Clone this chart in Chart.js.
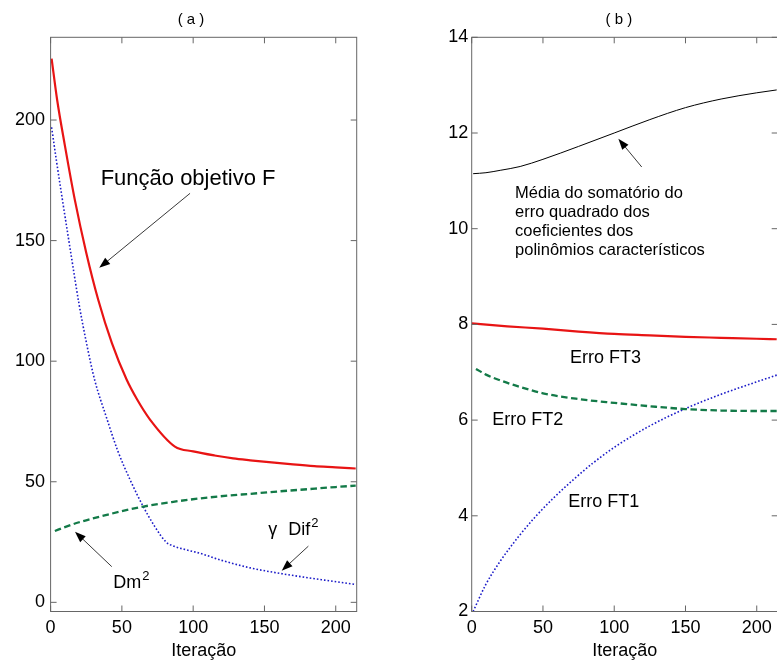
<!DOCTYPE html>
<html>
<head>
<meta charset="utf-8">
<script src="https://cdn.jsdelivr.net/npm/chart.js@4.4.0/dist/chart.umd.min.js"></script>
<style>
html,body{margin:0;padding:0;background:#fff;overflow:hidden}
#chartA{position:absolute;left:0;top:0}
#chartB{position:absolute;left:420px;top:0}
</style>
</head>
<body>
<canvas id="chartA" width="390" height="664"></canvas>
<canvas id="chartB" width="360" height="664"></canvas>
<script>
const FONT='"Liberation Sans", Arial, Helvetica, sans-serif'

// shared x axis
const xTicks=[0,50,100,150,200]
const xMax=214.7

// panel (a)
const yTicksA=[0,50,100,150,200]
const funcX=[0.7,4.6,10,17,25,33.4,43,53.3,60.7,69.6,87.2,100,115,128,140,155,170,185,200,214]
const funcY=[225.5,208.3,189.5,166.9,145,125.5,107.5,92.4,84.1,75.9,64.6,62.6,60.9,59.7,58.9,58.0,57.2,56.5,56.0,55.5]
const difX=[0.7,4,8,14,20,25,31,39,47,56,65,73,81,85,95,105,120,140,163,190,214]
const difY=[197,183.5,168,145.5,123.5,108,92,77,63,50.5,39.7,31.5,25,23.6,21.8,20.3,17.4,14.3,11.8,9.4,7.4]
const dmX=[3,10,20,35,50,65,85,105,125,140,160,180,200,214]
const dmY=[29.6,31.2,33.2,35.6,37.8,39.7,41.6,43.1,44.3,45.0,46.0,46.9,47.8,48.4]

// panel (b)
const yTicksB=[2,4,6,8,10,12,14]
const mediaX=[1,10,20,34,50,75,100,125,150,175,200,214]
const mediaY=[11.15,11.17,11.22,11.3,11.45,11.72,12.0,12.28,12.53,12.71,12.84,12.9]
const ft3X=[0,25,50,75,100,125,150,175,200,214]
const ft3Y=[8.02,7.96,7.91,7.85,7.80,7.77,7.74,7.72,7.70,7.69]
const ft2X=[3,10,20,30,50,75,100,125,150,175,200,214]
const ft2Y=[7.07,6.95,6.83,6.73,6.56,6.44,6.36,6.29,6.23,6.2,6.19,6.19]
const ft1X=[1,10,20,33,45,57,70,85,100,125,150,175,200,214]
const ft1Y=[2.0,2.57,3.05,3.57,3.99,4.36,4.72,5.10,5.43,5.88,6.24,6.54,6.80,6.94]

// annotations, in data units
const notesA={
title:{x:98.5,text:"( a )"},
texts:[
{x:35.1,y:173.0,text:"Função objetivo F",size:22},
{x:43.9,y:5.8,text:"Dm",sup:"2",size:18},
{x:152.7,y:27.9,text:"γ",size:18},
{x:166.7,y:27.9,text:"Dif",sup:"2",size:18}
],
arrows:[
{x1:97.8,y1:169.6,x2:34.1,y2:138.7},
{x1:42.9,y1:14.8,x2:17.1,y2:29.3},
{x1:180.8,y1:23.3,x2:162.1,y2:13.1}
]
}
const notesB={
title:{x:103.3,text:"( b )"},
texts:[
{x:30.4,y:10.65,text:"Média do somatório do",size:16.5},
{x:30.4,y:10.24,text:"erro quadrado dos",size:16.5},
{x:30.4,y:9.84,text:"coeficientes dos",size:16.5},
{x:30.4,y:9.44,text:"polinômios característicos",size:16.5},
{x:69,y:7.20,text:"Erro FT3",size:18},
{x:14.5,y:5.90,text:"Erro FT2",size:18},
{x:67.8,y:4.18,text:"Erro FT1",size:18}
],
arrows:[
{x1:119.3,y1:11.29,x2:102.9,y2:11.88}
]
}

function pts(xs,ys){
return xs.map((x,i)=>({x:x,y:ys[i]}))
}

const frameAndNotes={
id:"frameAndNotes",
afterDraw(chart){
const ctx=chart.ctx
const a=chart.chartArea
const sx=chart.scales.x
const sy=chart.scales.y
const notes=chart.options.plugins.frameAndNotes.notes

ctx.save()
ctx.strokeStyle="#666"
ctx.lineWidth=1
ctx.strokeRect(a.left,a.top,a.right-a.left,a.bottom-a.top)
ctx.beginPath()
sx.ticks.forEach(t=>{
const p=sx.getPixelForValue(t.value)
ctx.moveTo(p,a.bottom);ctx.lineTo(p,a.bottom-6)
ctx.moveTo(p,a.top);ctx.lineTo(p,a.top+6)
})
sy.ticks.forEach(t=>{
const p=sy.getPixelForValue(t.value)
ctx.moveTo(a.left,p);ctx.lineTo(a.left+6,p)
ctx.moveTo(a.right,p);ctx.lineTo(a.right-6,p)
})
ctx.stroke()

// title
ctx.fillStyle="#000"
ctx.font="15px "+FONT
ctx.textAlign="center"
ctx.textBaseline="middle"
ctx.fillText(notes.title.text,sx.getPixelForValue(notes.title.x),a.top-17)

// texts
ctx.textAlign="left"
ctx.textBaseline="alphabetic"
notes.texts.forEach(t=>{
const px=sx.getPixelForValue(t.x)
const py=sy.getPixelForValue(t.y)
ctx.font=t.size+"px "+FONT
ctx.fillText(t.text,px,py)
if(t.sup){
const w=ctx.measureText(t.text).width
ctx.font=Math.round(t.size*0.72)+"px "+FONT
ctx.fillText(t.sup,px+w+1,py-t.size*0.45)
}
})

// arrows
notes.arrows.forEach(ar=>{
const x1=sx.getPixelForValue(ar.x1),y1=sy.getPixelForValue(ar.y1)
const x2=sx.getPixelForValue(ar.x2),y2=sy.getPixelForValue(ar.y2)
const ang=Math.atan2(y2-y1,x2-x1)
const len=11,half=4
ctx.strokeStyle="#222"
ctx.lineWidth=0.9
ctx.beginPath()
ctx.moveTo(x1,y1)
ctx.lineTo(x2-Math.cos(ang)*len*0.8,y2-Math.sin(ang)*len*0.8)
ctx.stroke()
ctx.fillStyle="#000"
ctx.beginPath()
ctx.moveTo(x2,y2)
ctx.lineTo(x2-Math.cos(ang)*len-Math.sin(ang)*half,y2-Math.sin(ang)*len+Math.cos(ang)*half)
ctx.lineTo(x2-Math.cos(ang)*len+Math.sin(ang)*half,y2-Math.sin(ang)*len-Math.cos(ang)*half)
ctx.closePath()
ctx.fill()
})
ctx.restore()
}
}

function lineSet(data,color,width,dash){
return {
data:data,
borderColor:color,
borderWidth:width,
borderDash:dash,
pointRadius:0,
fill:false,
cubicInterpolationMode:"monotone"
}
}

function makeOptions(yMin,yMax,yTicks,yWidth,padRight,yPad,notes){
return {
responsive:false,
animation:false,
layout:{padding:{top:37.3,right:padRight,left:0,bottom:0}},
plugins:{
legend:{display:false},
tooltip:{enabled:false},
frameAndNotes:{notes:notes}
},
scales:{
x:{
type:"linear",
min:0,
max:xMax,
grid:{display:false,drawTicks:false},
border:{display:false},
afterBuildTicks:s=>{s.ticks=xTicks.map(v=>({value:v}))},
afterFit:s=>{s.height=52.5},
ticks:{color:"#000",padding:6,maxRotation:0,font:{family:FONT,size:18}},
title:{display:true,text:"Iteração",color:"#000",font:{family:FONT,size:18},padding:{top:0,bottom:2}}
},
y:{
type:"linear",
min:yMin,
max:yMax,
grid:{display:false,drawTicks:false},
border:{display:false},
afterBuildTicks:s=>{s.ticks=yTicks.map(v=>({value:v}))},
afterFit:s=>{s.width=yWidth},
ticks:{color:"#000",padding:yPad,font:{family:FONT,size:18}}
}
}
}
}

new Chart(document.getElementById("chartA"),{
type:"line",
data:{datasets:[
lineSet(pts(dmX,dmY),"#137a48",2.3,[6.5,3.5]),
lineSet(pts(difX,difY),"#1c1cc8",1.6,[1.6,2]),
lineSet(pts(funcX,funcY),"#e81414",2.2,[])
]},
options:makeOptions(-3.8,234.3,yTicksA,50.6,33.3,5.5,notesA),
plugins:[frameAndNotes]
})

new Chart(document.getElementById("chartB"),{
type:"line",
data:{datasets:[
lineSet(pts(mediaX,mediaY),"#000",1,[]),
lineSet(pts(ft2X,ft2Y),"#137a48",2.3,[6.5,3.5]),
lineSet(pts(ft1X,ft1Y),"#1c1cc8",1.6,[1.6,2]),
lineSet(pts(ft3X,ft3Y),"#e81414",2.2,[])
]},
options:makeOptions(2,14,yTicksB,51.7,2.3,3.5,notesB),
plugins:[frameAndNotes]
})
</script>
</body>
</html>
